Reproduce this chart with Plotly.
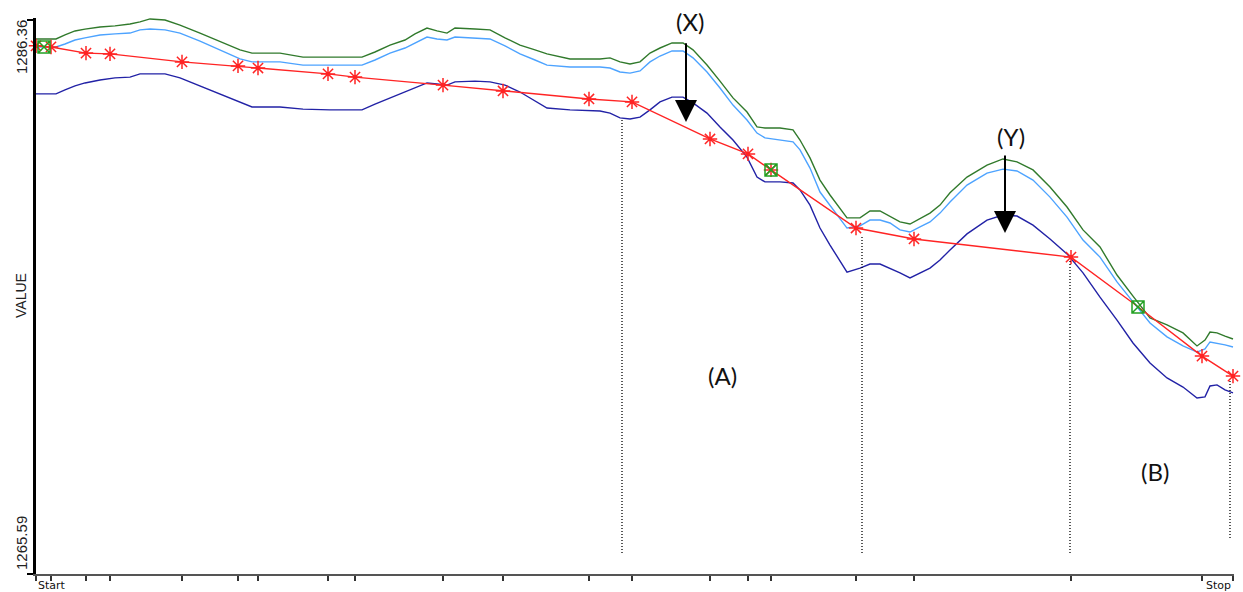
import plotly.graph_objects as go

# ---------------- data ----------------
# sample positions (common grid for the three envelope curves)
grid_x = [0, 20, 29, 39, 49, 64, 79, 94, 104, 114, 129, 144, 164, 184, 204, 216, 244, 267, 294, 326,
          339, 354, 369, 379, 391, 401, 411, 419, 439, 454, 469, 484, 499, 511, 534, 564, 574, 584, 594, 604,
          614, 624, 636, 647, 657, 671, 684, 697, 711, 721, 729, 744, 757, 764, 774, 784, 794, 811, 824, 834,
          844, 854, 864, 874, 884, 894, 904, 914, 931, 951, 967, 981, 997, 1014, 1031, 1047, 1064, 1081, 1097, 1114,
          1131, 1147, 1161, 1169, 1174, 1181, 1189, 1197]

upper_green = [1285.65, 1285.65, 1285.80, 1285.95, 1286.02, 1286.10, 1286.14, 1286.21, 1286.29, 1286.40,
               1286.36, 1286.17, 1285.87, 1285.54, 1285.24, 1285.12, 1285.12, 1284.97, 1284.97, 1284.97,
               1285.16, 1285.42, 1285.61, 1285.84, 1286.06, 1285.95, 1285.87, 1286.06, 1286.02, 1285.99,
               1285.69, 1285.42, 1285.24, 1285.09, 1284.90, 1284.90, 1284.94, 1284.79, 1284.71, 1284.79,
               1285.12, 1285.31, 1285.50, 1285.50, 1285.24, 1284.67, 1284.07, 1283.44, 1282.91, 1282.35,
               1282.31, 1282.31, 1282.24, 1281.86, 1281.19, 1280.36, 1279.80, 1278.94, 1278.94, 1279.20,
               1279.20, 1279.01, 1278.79, 1278.71, 1278.90, 1279.12, 1279.42, 1279.88, 1280.47, 1280.92,
               1281.15, 1281.04, 1280.74, 1280.10, 1279.35, 1278.49, 1277.85, 1276.80, 1276.01, 1275.19,
               1274.93, 1274.63, 1274.14, 1274.36, 1274.66, 1274.63, 1274.51, 1274.40]

upper_blue = [1285.35, 1285.35, 1285.46, 1285.61, 1285.69, 1285.80, 1285.84, 1285.87, 1285.99, 1286.02,
              1285.99, 1285.87, 1285.57, 1285.24, 1284.90, 1284.79, 1284.79, 1284.67, 1284.67, 1284.67,
              1284.86, 1285.12, 1285.31, 1285.50, 1285.72, 1285.65, 1285.61, 1285.72, 1285.69, 1285.65,
              1285.39, 1285.09, 1284.86, 1284.67, 1284.60, 1284.60, 1284.56, 1284.41, 1284.37, 1284.45,
              1284.79, 1285.01, 1285.20, 1285.20, 1284.94, 1284.41, 1283.81, 1283.17, 1282.61, 1282.12,
              1281.94, 1281.86, 1281.79, 1281.49, 1280.81, 1279.91, 1279.42, 1278.56, 1278.64, 1278.86,
              1278.86, 1278.75, 1278.49, 1278.41, 1278.60, 1278.79, 1279.12, 1279.54, 1280.17, 1280.62,
              1280.77, 1280.70, 1280.36, 1279.72, 1278.97, 1278.11, 1277.47, 1276.54, 1275.79, 1275.00,
              1274.48, 1274.14, 1273.91, 1274.03, 1274.29, 1274.25, 1274.18, 1274.10]

lower_navy = [1283.59, 1283.59, 1283.74, 1283.89, 1284.00, 1284.11, 1284.19, 1284.22, 1284.34, 1284.34,
              1284.34, 1284.19, 1283.89, 1283.59, 1283.29, 1283.10, 1283.10, 1283.02, 1282.99, 1282.99,
              1283.21, 1283.44, 1283.66, 1283.81, 1284.00, 1283.96, 1283.92, 1284.04, 1284.07, 1284.04,
              1283.92, 1283.66, 1283.32, 1283.06, 1282.99, 1282.95, 1282.87, 1282.69, 1282.65, 1282.72,
              1282.99, 1283.29, 1283.47, 1283.47, 1283.25, 1282.87, 1282.35, 1281.86, 1281.22, 1280.47,
              1280.29, 1280.29, 1280.25, 1279.99, 1279.42, 1278.56, 1277.92, 1276.91, 1277.06, 1277.21,
              1277.21, 1277.06, 1276.88, 1276.69, 1276.88, 1277.06, 1277.36, 1277.74, 1278.34, 1278.86,
              1279.05, 1279.01, 1278.67, 1278.15, 1277.59, 1276.88, 1275.97, 1275.11, 1274.25, 1273.50,
              1272.94, 1272.60, 1272.19, 1272.23, 1272.64, 1272.68, 1272.49, 1272.38]

# red trend line vertices and which ones carry a star marker
red_x = [0, 15, 50, 74, 146, 202, 222, 292, 319, 407, 467, 553, 596, 674, 712, 735, 820, 878, 1035, 1101, 1166, 1197]
red_y = [1285.39, 1285.35, 1285.12, 1285.09, 1284.79, 1284.64, 1284.56, 1284.34, 1284.22, 1283.92, 1283.70,
         1283.40, 1283.29, 1281.90, 1281.34, 1280.74, 1278.56, 1278.15, 1277.47, 1275.64, 1273.76, 1273.01]
red_star = [1, 1, 1, 1, 1, 1, 1, 1, 1, 1, 1, 1, 1, 1, 1, 1, 1, 1, 1, 0, 1, 1]

# green square markers
sq_x = [8, 735, 1102]
sq_y = [1285.35, 1280.74, 1275.60]

# dotted drop lines
drop_x = [586, 826, 1034, 1194]
drop_top = [1282.61, 1278.30, 1277.36, 1272.86]
drop_bottom = [1266.38, 1266.38, 1266.38, 1266.94]

# arrows
arrow_x = [650, 969]
arrow_from = [1285.54, 1281.34]
arrow_to = [1282.54, 1278.37]

# text labels
label_text = ["(X)", "(Y)", "(A)", "(B)"]
label_x = [654, 975, 686, 1119]
label_y = [1286.29, 1282.01, 1273.05, 1269.45]

# axis
y_ticks = [1265.59, 1286.36]
x_first_label = "Start"
x_last_label = "Stop"
y_title = "VALUE"

# ---------------- figure ----------------
fig = go.Figure()

fig.add_trace(go.Scatter(x=grid_x, y=upper_green, mode="lines",
                         line=dict(color="#317a2c", width=1.4), hoverinfo="skip"))
fig.add_trace(go.Scatter(x=grid_x, y=upper_blue, mode="lines",
                         line=dict(color="#4da3ff", width=1.4), hoverinfo="skip"))
fig.add_trace(go.Scatter(x=grid_x, y=lower_navy, mode="lines",
                         line=dict(color="#2222a6", width=1.4), hoverinfo="skip"))
fig.add_trace(go.Scatter(x=red_x, y=red_y, mode="lines",
                         line=dict(color="#ff2424", width=1.4), hoverinfo="skip"))
star_x = [x for x, s in zip(red_x, red_star) if s]
star_y = [y for y, s in zip(red_y, red_star) if s]
fig.add_trace(go.Scatter(x=star_x, y=star_y, mode="markers", cliponaxis=False,
                         marker=dict(symbol="asterisk-open", size=12, color="#ff2424",
                                     line=dict(color="#ff2424", width=1.5)),
                         hoverinfo="skip"))
fig.add_trace(go.Scatter(x=star_x, y=star_y, mode="markers", cliponaxis=False,
                         marker=dict(symbol="circle", size=4, color="#ff2424"),
                         hoverinfo="skip"))
fig.add_trace(go.Scatter(x=sq_x, y=sq_y, mode="markers", cliponaxis=False,
                         marker=dict(symbol="square-x-open", size=12, color="#22a022",
                                     line=dict(color="#22a022", width=1.5)),
                         hoverinfo="skip"))

shapes = []
for xv, yt, yb in zip(drop_x, drop_top, drop_bottom):
    shapes.append(dict(type="line", xref="x", yref="y", x0=xv, x1=xv, y0=yb, y1=yt,
                       line=dict(color="#000000", width=1.3, dash="1px,2px")))

annotations = []
for xv, y0, y1 in zip(arrow_x, arrow_from, arrow_to):
    annotations.append(dict(x=xv, y=y1, ax=xv, ay=y0, xref="x", yref="y", axref="x", ayref="y",
                            text="", showarrow=True, arrowhead=2, arrowsize=2.2, arrowwidth=2,
                            arrowcolor="black", standoff=0))
for t, xv, yv in zip(label_text, label_x, label_y):
    annotations.append(dict(x=xv, y=yv, xref="x", yref="y", text=t, showarrow=False,
                            xanchor="center", yanchor="middle",
                            font=dict(family="Lato", size=24, color="#111111")))

# y tick labels (rotated)
annotations.append(dict(x=0, y=y_ticks[1], xref="paper", yref="y", xshift=-15, yshift=2,
                        text=f"{y_ticks[1]:.2f}", textangle=-90, showarrow=False,
                        xanchor="center", yanchor="top",
                        font=dict(family="Liberation Sans", size=15, color="#222222")))
annotations.append(dict(x=0, y=y_ticks[0], xref="paper", yref="y", xshift=-15, yshift=2,
                        text=f"{y_ticks[0]:.2f}", textangle=-90, showarrow=False,
                        xanchor="center", yanchor="bottom",
                        font=dict(family="Liberation Sans", size=15, color="#222222")))
annotations.append(dict(x=0, y=0.5, xref="paper", yref="paper", xshift=-15,
                        text=y_title, textangle=-90, showarrow=False,
                        xanchor="center", yanchor="middle",
                        font=dict(family="Liberation Sans", size=14, color="#222222")))
# start / stop
annotations.append(dict(x=0, y=0, xref="paper", yref="paper", yshift=-3,
                        text=x_first_label, showarrow=False, xanchor="left", yanchor="top",
                        font=dict(family="DejaVu Sans", size=11, color="#111111")))
annotations.append(dict(x=1, y=0, xref="paper", yref="paper", yshift=-3, xshift=-1,
                        text=x_last_label, showarrow=False, xanchor="right", yanchor="top",
                        font=dict(family="DejaVu Sans", size=11, color="#111111")))

fig.update_layout(
    width=1243, height=592,
    margin=dict(l=36, r=9, t=18, b=18),
    paper_bgcolor="white", plot_bgcolor="white",
    showlegend=False,
    shapes=shapes, annotations=annotations,
    xaxis=dict(range=[0, 1198], showgrid=False, zeroline=False, showline=True,
               linecolor="#555555", linewidth=2, ticks="outside", tickvals=star_x,
               ticklen=5, tickwidth=1.5, tickcolor="#333333", showticklabels=False),
    yaxis=dict(range=[1265.59, 1286.435], showgrid=False, zeroline=False, showline=True,
               linecolor="black", linewidth=3, ticks="outside", tickvals=y_ticks,
               ticklen=6, tickwidth=2, tickcolor="black", showticklabels=False),
)

fig.write_html("out.html", config={"displayModeBar": False},
               post_script="document.body.style.margin='0';document.body.style.padding='0';")
